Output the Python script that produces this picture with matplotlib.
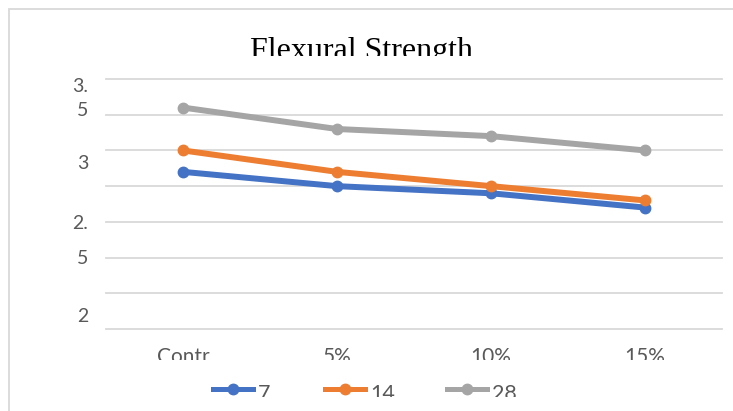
import matplotlib
matplotlib.use("Agg")
import matplotlib.pyplot as plt
from matplotlib.lines import Line2D
from matplotlib.patches import Rectangle
from matplotlib.transforms import Bbox

# ----- data -----------------------------------------------------------------
CATEGORIES = ["Contr", "5%", "10%", "15%"]
DAY7  = [3.10, 3.00, 2.95, 2.85]
DAY14 = [3.25, 3.10, 3.00, 2.90]
DAY28 = [3.55, 3.40, 3.35, 3.25]
SERIES = [("7", DAY7, "#4472C4"), ("14", DAY14, "#ED7D31"), ("28", DAY28, "#A5A5A5")]

# wrapped / shifted y labels as they appear in the picture (text, pixel y)
YLABELS = [("3.", 86), ("5", 110), ("3", 163), ("2.", 223), ("5", 258), ("2", 317)]
# legend entry left edges (pixels)
LEG_X = [213, 325, 447]

W, H = 733, 411
FONT = "Lato"
GREY = "#595959"


def fy(py):
    return 1 - py / H


def clip_below(txt, py):
    # hide the part of a text lower than pixel row py (the reference is cut off there)
    txt.set_clip_box(Bbox.from_extents(0, H - py, W, H))
    txt.set_clip_on(True)


fig = plt.figure(figsize=(W / 100, H / 100), dpi=100)
ax = fig.add_axes([106 / W, fy(329), (722 - 106) / W, (329 - 79) / H])

x = list(range(len(CATEGORIES)))
for name, vals, col in SERIES:
    ax.plot(x, vals, color=col, lw=4.3, marker="o", ms=7.5, label=name,
            solid_capstyle="round", zorder=3)

ax.set_xlim(-0.5, 3.5)
ax.set_ylim(2, 3.75)
ax.set_yticks([2 + 0.25 * i for i in range(8)])
ax.set_yticklabels([])
ax.tick_params(axis="y", length=0)
ax.grid(axis="y", color="#D9D9D9", lw=1.3)
for gl in ax.get_ygridlines():
    gl.set_clip_on(False)
for s in ax.spines.values():
    s.set_visible(False)

ax.set_xticks(x)
ax.set_xticklabels(CATEGORIES, fontsize=15, color=GREY, family=FONT)
ax.tick_params(axis="x", length=0, pad=13)
for t in ax.get_xticklabels():
    clip_below(t, 359.5)

for txt, py in YLABELS:
    fig.text(88 / W, fy(py), txt, ha="right", va="center", fontsize=14,
             color=GREY, family=FONT)

title = fig.text(361 / W, fy(59), "Flexural Strength", ha="center", va="baseline",
                 fontsize=23, family="Liberation Serif", color="black")
clip_below(title, 56)

# legend drawn by hand: the reference shows the labels sitting low and cut off
for (name, _, col), lx in zip(SERIES, LEG_X):
    fig.add_artist(Line2D([lx / W, (lx + 40) / W], [fy(389), fy(389)], color=col,
                          lw=3.6, transform=fig.transFigure))
    fig.add_artist(Line2D([(lx + 20) / W], [fy(389)], color=col, marker="o", ms=7.5,
                          transform=fig.transFigure))
    t = fig.text((lx + 45) / W, fy(400), name, ha="left", va="baseline",
                 fontsize=15.5, color=GREY, family=FONT)
    clip_below(t, 397)

# chart-area border (only top and left edges are inside the crop)
fig.add_artist(Rectangle((9 / W, -0.2), 1.2, fy(9) + 0.2, transform=fig.transFigure,
                         fill=False, ec="#D9D9D9", lw=1.3))

fig.savefig("out.png", dpi=100)
